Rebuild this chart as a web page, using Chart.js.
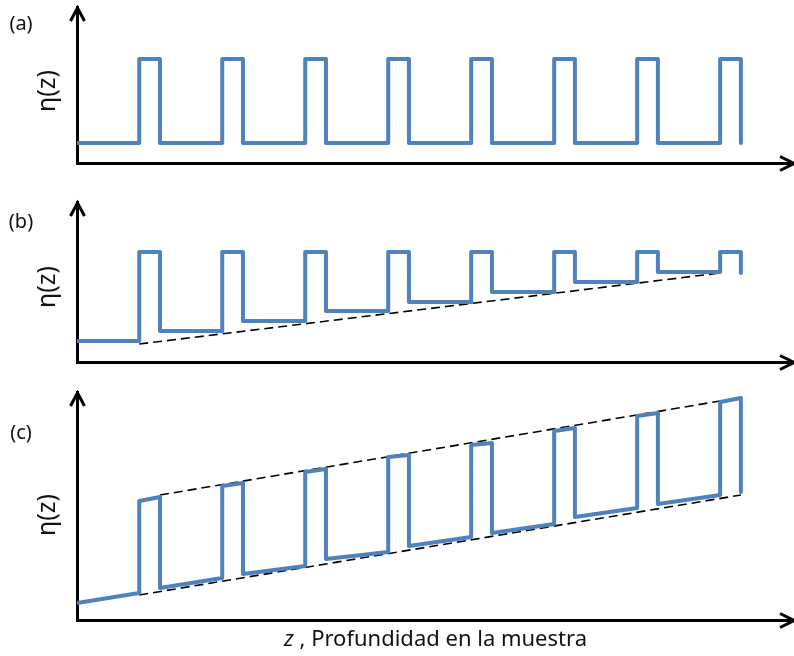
<!DOCTYPE html>
<html>
<head>
<meta charset="utf-8">
<script src="https://cdn.jsdelivr.net/npm/chart.js@4.4.1/dist/chart.umd.min.js"></script>
<style>
  html, body { margin: 0; padding: 0; background: #fff; }
  #wrap { position: relative; width: 794px; height: 656px; overflow: hidden; background: #fff; }
  canvas { position: absolute; left: 0; }
</style>
</head>
<body>
<div id="wrap">
  <canvas id="chartA" width="794" height="180" style="top:0"></canvas>
  <canvas id="chartB" width="794" height="190" style="top:185px"></canvas>
  <canvas id="chartC" width="794" height="281" style="top:375px"></canvas>
</div>
<script>
// vertex positions along z (rise / fall of each layer), shared by all three profiles
const zVertices = [0,
  0.75, 0.75, 1.0, 1.0,
  1.75, 1.75, 2.0, 2.0,
  2.75, 2.75, 3.0, 3.0,
  3.75, 3.75, 4.0, 4.0,
  4.75, 4.75, 5.0, 5.0,
  5.75, 5.75, 6.0, 6.0,
  6.75, 6.75, 7.0, 7.0,
  7.75, 7.75, 8.0, 8.0];

// (a) periodic profile
const etaA = [2.0,
  2.0, 10.4, 10.4, 2.0,
  2.0, 10.4, 10.4, 2.0,
  2.0, 10.4, 10.4, 2.0,
  2.0, 10.4, 10.4, 2.0,
  2.0, 10.4, 10.4, 2.0,
  2.0, 10.4, 10.4, 2.0,
  2.0, 10.4, 10.4, 2.0,
  2.0, 10.4, 10.4, 2.0];

// (b) low level drifting upwards
const etaB = [2.1,
  2.1, 11.0, 11.0, 3.1,
  3.1, 11.0, 11.0, 4.1,
  4.1, 11.0, 11.0, 5.1,
  5.1, 11.0, 11.0, 6.0,
  6.0, 11.0, 11.0, 7.0,
  7.0, 11.0, 11.0, 8.0,
  8.0, 11.0, 11.0, 9.0,
  9.0, 11.0, 11.0, 8.9];

// (c) whole profile on a slope
const etaC = [1.7,
  2.7, 11.9, 12.3, 3.2,
  4.2, 13.4, 13.7, 4.6,
  5.4, 14.8, 15.1, 6.1,
  6.8, 16.3, 16.5, 7.4,
  8.3, 17.5, 17.7, 8.7,
  9.6, 18.9, 19.2, 10.3,
  11.2, 20.4, 20.7, 11.6,
  12.5, 21.8, 22.2, 12.8];

// dashed trend lines
const trendBz = [0.75, 7.75];
const trendB = [1.8, 8.9];
const trendCLowZ = [0.75, 8.0];
const trendCLow = [2.5, 12.5];
const trendCHighZ = [1.0, 7.75];
const trendCHigh = [12.5, 21.9];

const zMax = 8.64;

const FONT = '"Noto Sans", "Open Sans", sans-serif';
const BLUE = '#4f81bd';

const pts = (xs, ys) => xs.map((x, i) => ({ x, y: ys[i] }));

const profileSet = data => ({
  data, borderColor: BLUE, borderWidth: 4, borderJoinStyle: 'round',
  pointRadius: 0, tension: 0, fill: false,
});
const trendSet = data => ({
  data, borderColor: '#000', borderWidth: 1.6, borderDash: [9, 5],
  pointRadius: 0, tension: 0, fill: false,
});

// axis arrows and text labels
const decoPlugin = {
  id: 'deco',
  afterDraw(chart, args, opts) {
    const { ctx, chartArea: a } = chart;
    ctx.save();
    ctx.strokeStyle = '#000';
    ctx.lineWidth = 3;
    ctx.lineJoin = 'miter';
    const x0 = 77.5, yb = a.bottom + 0.5;
    ctx.beginPath();
    ctx.moveTo(x0 - 7, a.top + 14);
    ctx.lineTo(x0, a.top + 1);
    ctx.lineTo(x0 + 7, a.top + 14);
    ctx.stroke();
    ctx.beginPath();
    ctx.moveTo(a.right - 14, yb - 7);
    ctx.lineTo(a.right, yb);
    ctx.lineTo(a.right - 14, yb + 7);
    ctx.stroke();

    ctx.fillStyle = '#111';
    ctx.textBaseline = 'middle';
    ctx.textAlign = 'center';
    ctx.font = '20px ' + FONT;
    ctx.fillText(opts.tag, 21, opts.tagY);

    // rotated η(z)
    ctx.save();
    ctx.translate(48, opts.labelY);
    ctx.rotate(-Math.PI / 2);
    ctx.font = '25px ' + FONT;
    ctx.fillText('η(z)', 0, 0);
    ctx.restore();

    if (opts.title) {
      const y = opts.titleY;
      ctx.font = 'italic 22px ' + FONT;
      const wz = ctx.measureText('z').width;
      ctx.font = '22px ' + FONT;
      const rest = ' , Profundidad en la muestra';
      const wr = ctx.measureText(rest).width;
      const cx = (a.left + a.right) / 2;
      const start = cx - (wz + wr) / 2;
      ctx.textAlign = 'left';
      ctx.font = 'italic 22px ' + FONT;
      ctx.fillText('z', start, y);
      ctx.font = '22px ' + FONT;
      ctx.fillText(rest, start + wz, y);
    }
    ctx.restore();
  }
};

function makePanel(id, datasets, yMax, padding, deco) {
  return new Chart(document.getElementById(id), {
    type: 'line',
    data: { datasets },
    plugins: [decoPlugin],
    options: {
      responsive: false,
      animation: false,
      layout: { padding },
      plugins: { legend: { display: false }, tooltip: { enabled: false }, deco },
      scales: {
        x: {
          type: 'linear', min: 0, max: zMax,
          grid: { display: false },
          ticks: { display: false },
          border: { display: true, color: '#000', width: 3 },
          afterFit: s => { s.height = 0; },
        },
        y: {
          min: 0, max: yMax,
          grid: { display: false },
          ticks: { display: false },
          border: { display: true, color: '#000', width: 3 },
          afterFit: s => { s.width = 0; },
        },
      },
    },
  });
}

makePanel('chartA',
  [profileSet(pts(zVertices, etaA))],
  15.6, { left: 77, right: 0, top: 7, bottom: 17 },
  { tag: '(a)', tagY: 24, labelY: 91 });

makePanel('chartB',
  [profileSet(pts(zVertices, etaB)), trendSet(pts(trendBz, trendB))],
  16.0, { left: 77, right: 0, top: 17, bottom: 13 },
  { tag: '(b)', tagY: 37, labelY: 102 });

makePanel('chartC',
  [profileSet(pts(zVertices, etaC)),
   trendSet(pts(trendCLowZ, trendCLow)),
   trendSet(pts(trendCHighZ, trendCHigh))],
  22.8, { left: 77, right: 0, top: 17, bottom: 36 },
  { tag: '(c)', tagY: 58, labelY: 140, title: true, titleY: 265 });
</script>
</body>
</html>
